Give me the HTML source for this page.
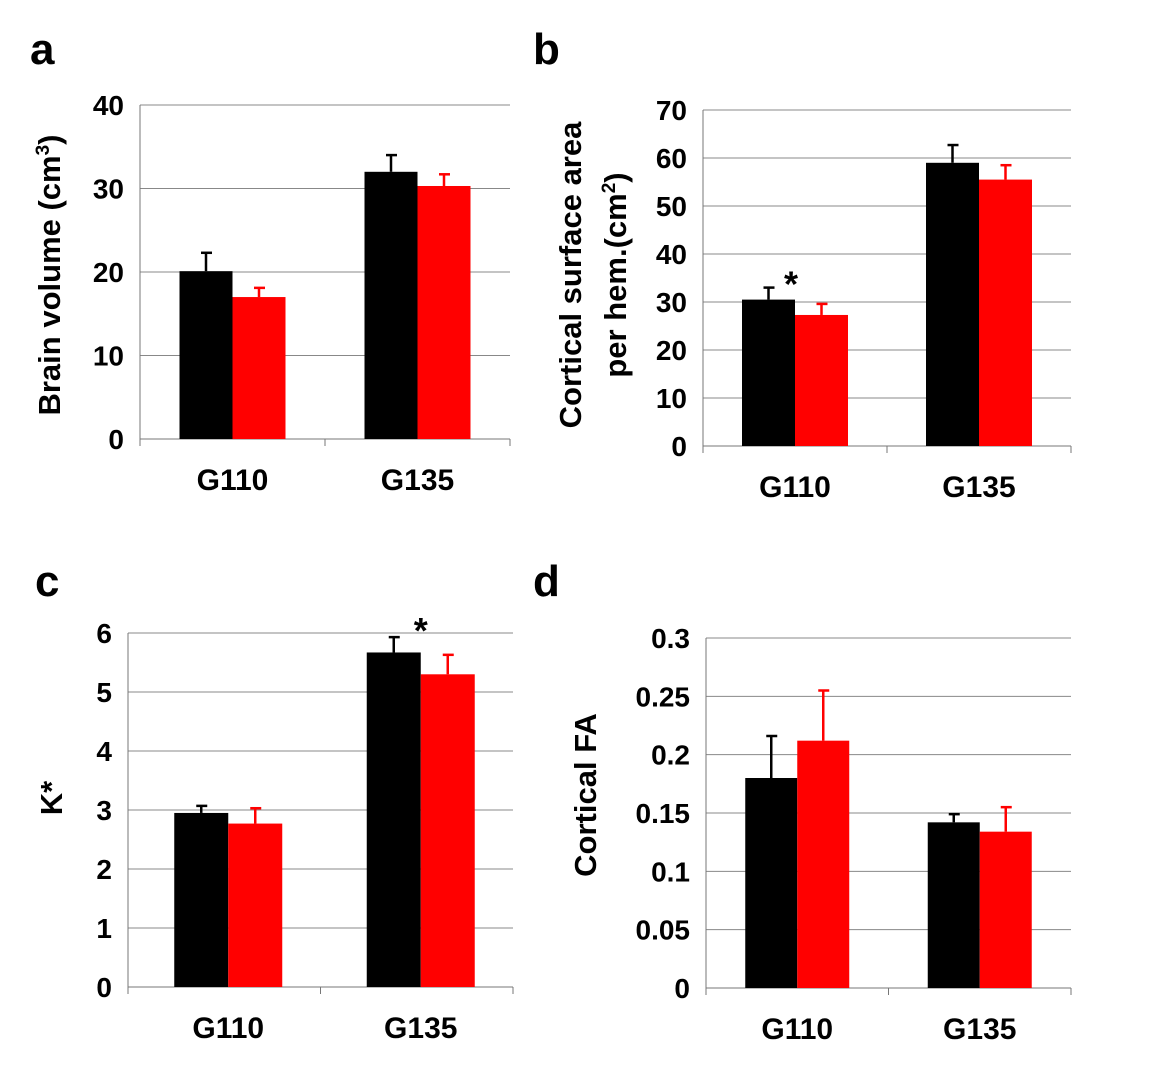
<!DOCTYPE html>
<html><head><meta charset="utf-8"><style>
body{margin:0;background:#fff}
svg text{font-family:"Liberation Sans",Arial,sans-serif;font-weight:bold;fill:#000}
</style></head><body>
<svg id="fig" width="1150" height="1069" xmlns="http://www.w3.org/2000/svg">
<text x="30" y="64" font-size="44">a</text>
<text x="533" y="64" font-size="44">b</text>
<text x="35" y="596" font-size="44">c</text>
<text x="533" y="596" font-size="44">d</text>
<text transform="translate(60,275) rotate(-90)" text-anchor="middle" font-size="31">Brain volume (cm<tspan dy="-11" font-size="19">3</tspan><tspan dy="11">)</tspan></text>
<text transform="translate(581,275) rotate(-90)" text-anchor="middle" font-size="31">Cortical surface area</text>
<text transform="translate(626,275) rotate(-90)" text-anchor="middle" font-size="31">per hem.(cm<tspan dy="-11" font-size="19">2</tspan><tspan dy="11">)</tspan></text>
<text transform="translate(62,798) rotate(-90)" text-anchor="middle" font-size="31">K*</text>
<text transform="translate(596,795) rotate(-90)" text-anchor="middle" font-size="31">Cortical FA</text>
</svg>
<script>
const categories = ["G110","G135"];
const aBlack=[20.1,32.0], aBlackErr=[2.2,2.0], aRed=[17.0,30.3], aRedErr=[1.1,1.4], aTicks=[0,10,20,30,40];
const bBlack=[30.5,59.0], bBlackErr=[2.5,3.7], bRed=[27.3,55.5], bRedErr=[2.3,3.0], bTicks=[0,10,20,30,40,50,60,70];
const cBlack=[2.95,5.67], cBlackErr=[0.12,0.26], cRed=[2.77,5.30], cRedErr=[0.26,0.33], cTicks=[0,1,2,3,4,5,6];
const dBlack=[0.180,0.142], dBlackErr=[0.036,0.007], dRed=[0.212,0.134], dRedErr=[0.043,0.021], dTicks=[0,0.05,0.1,0.15,0.2,0.25,0.3];
const svg=document.getElementById('fig'), NS="http://www.w3.org/2000/svg";
function mk(tag,attrs){const e=document.createElementNS(NS,tag);for(const k in attrs)e.setAttribute(k,attrs[k]);svg.appendChild(e);return e;}
function panel(p,cfg,black,bErr,red,rErr,ticks,stars){
  const max=ticks[ticks.length-1];
  const y=v=>cfg.y0-(v/max)*(cfg.y0-cfg.y1);
  ticks.forEach(t=>{
    const g=mk('line',{x1:cfg.x0,x2:cfg.x2,y1:y(t),y2:y(t),stroke:t===0?'#777':'#888','stroke-width':1});
    
    
    const tx=mk('text',{x:cfg.x0-16,y:y(t)+10,'text-anchor':'end','font-size':28});
    tx.textContent=String(t);
    
    
  });
  const ax=mk('line',{x1:cfg.x0,x2:cfg.x0,y1:cfg.y1,y2:cfg.y0,stroke:'#777','stroke-width':1});
  
  
  const gw=(cfg.x2-cfg.x0)/categories.length, bw=cfg.bw;
  [cfg.x0,cfg.x0+gw,cfg.x2].forEach(x=>{const t=mk('line',{x1:x,x2:x,y1:cfg.y0,y2:cfg.y0+7,stroke:'#777'});
    
    });
  categories.forEach((c,i)=>{
    const cx=cfg.x0+gw*(i+0.5)+cfg.off;
    [[black[i],bErr[i],'#000',cx-bw,'black'],[red[i],rErr[i],'#f00',cx,'red']].forEach(([v,e,col,x,nm])=>{
      const r=mk('rect',{x:x,y:y(v),width:bw,height:cfg.y0-y(v),fill:col});
      
      
      const mx=x+bw/2;
      const l=mk('line',{x1:mx,x2:mx,y1:y(v),y2:y(v+e),stroke:col,'stroke-width':2.5});
      
      
      const cap=mk('line',{x1:mx-5,x2:mx+6,y1:y(v+e),y2:y(v+e),stroke:col,'stroke-width':2.5});
      
      
    });
    const lab=mk('text',{x:cx,y:cfg.y0+51,'text-anchor':'middle','font-size':30});
    lab.textContent=c;
    
    
    if(stars[i]){const s=mk('text',{x:cx+cfg.sx,y:y(Math.max(black[i]+bErr[i],red[i]+rErr[i]))+cfg.sy,'text-anchor':'middle','font-size':36});
      s.textContent='*';
      
      }
  });
}
panel('a',{x0:140,x2:510,y0:439,y1:105,bw:53,off:0,sx:0,sy:8},aBlack,aBlackErr,aRed,aRedErr,aTicks,[0,0]);
panel('b',{x0:703,x2:1071,y0:446,y1:110,bw:53,off:0,sx:-4,sy:9},bBlack,bBlackErr,bRed,bRedErr,bTicks,[1,0]);
panel('c',{x0:128,x2:513,y0:987,y1:633,bw:54,off:4,sx:0,sy:6},cBlack,cBlackErr,cRed,cRedErr,cTicks,[0,1]);
panel('d',{x0:706,x2:1071,y0:988,y1:638,bw:52,off:0,sx:0,sy:8},dBlack,dBlackErr,dRed,dRedErr,dTicks,[0,0]);
</script>
</body></html>
